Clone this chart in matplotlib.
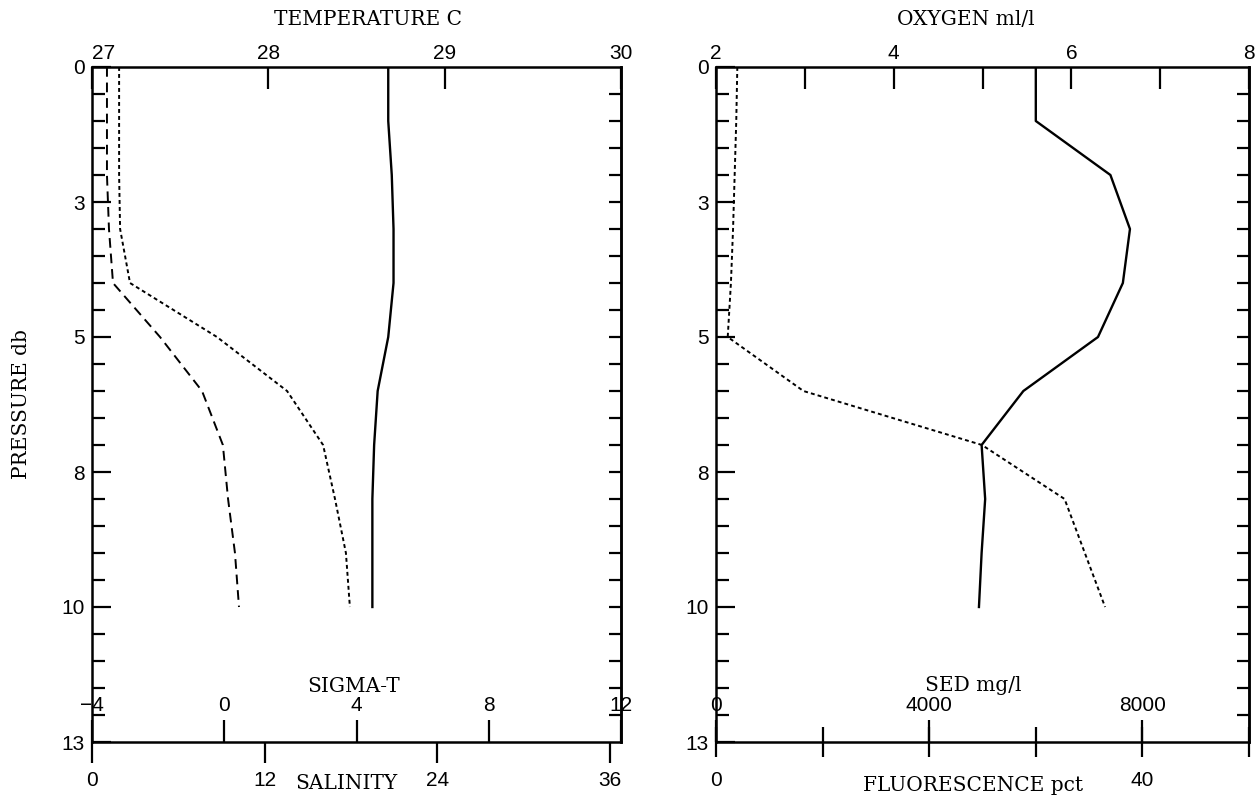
import numpy as np
import matplotlib.pyplot as plt

# ---- profile data ----
pressure = [0, 1, 2, 3, 4, 5, 6, 7, 8, 9, 10]
temperature = [28.68, 28.68, 28.70, 28.71, 28.71, 28.68, 28.62, 28.60, 28.59, 28.59, 28.59]
sigma_t = [-3.18, -3.18, -3.18, -3.15, -2.85, -0.22, 1.90, 2.99, 3.35, 3.68, 3.80]
salinity = [1.04, 1.04, 1.04, 1.18, 1.46, 4.73, 7.65, 9.10, 9.46, 9.94, 10.22]
oxygen = [5.60, 5.60, 6.44, 6.66, 6.58, 6.30, 5.46, 4.99, 5.03, 4.99, 4.96]
fluorescence = [2.0, 1.9, 1.75, 1.6, 1.4, 1.1, 8.2, 24.95, 32.7, 34.6, 36.5]

# axis ticks / labels
p_major = [0, 2.5, 5, 7.5, 10, 12.5]
p_labels = ["0", "3", "5", "8", "10", "13"]
temp_ticks = [27, 28, 29, 30]
sigma_ticks = [-4, 0, 4, 8, 12]
sigma_labels = ["\u22124", "0", "4", "8", "12"]
sal_ticks = [0, 12, 24, 36]
oxy_ticks = [2, 3, 4, 5, 6, 7, 8]
oxy_labels = ["2", "", "4", "", "6", "", "8"]
sed_ticks = [0, 4000, 8000]
fl_ticks = [0, 10, 20, 30, 40, 50]
fl_labels = ["0", "", "", "", "40", ""]

SERIF = "DejaVu Serif"
TFS = 14.5  # title font size
plt.rcParams["font.family"] = "Liberation Sans"
plt.rcParams["font.size"] = 15

LW = 1.6
W, H = 1259, 799
fig = plt.figure(figsize=(W / 100, H / 100), dpi=100)


def frame(x0, x1):
    y0, y1 = 67, 742
    ax = fig.add_axes([x0 / W, 1 - y1 / H, (x1 - x0) / W, (y1 - y0) / H])
    for s in ax.spines.values():
        s.set_linewidth(1.8)
    ax.set_ylim(12.5, 0)
    ax.set_yticks(p_major)
    ax.set_yticklabels(p_labels)
    ax.set_yticks(np.arange(0, 12.51, 0.5), minor=True)
    ax.tick_params(axis="y", which="major", direction="in", length=14,
                   width=LW, pad=5, right=False)
    ax.tick_params(axis="y", which="minor", direction="in", length=9,
                   width=LW, right=False)
    sec = ax.secondary_yaxis("right")
    sec.set_yticks(np.arange(0.5, 12.5, 0.5))
    sec.tick_params(direction="in", length=9, width=LW, labelright=False)
    sec.spines["right"].set_linewidth(1.8)
    return ax


def bottom_twin(ax):
    t = ax.twiny()
    t.xaxis.set_ticks_position("bottom")
    for s in t.spines.values():
        s.set_visible(False)
    return t


def top_axis(ax):
    # twiny() moves the parent's ticks to the bottom, so redo it afterwards
    ax.xaxis.tick_top()
    ax.tick_params(axis="x", which="both", bottom=False, labelbottom=False,
                   top=True, labeltop=True, direction="in", length=16,
                   width=LW, pad=3)


solid = dict(color="black", lw=1.7, ls="-")
dotted = dict(color="black", lw=1.4, ls=(0, (2, 1.6)))
dashed = dict(color="black", lw=1.4, ls=(0, (5, 3)))

# ---------------- left panel ----------------
ax = frame(92, 621)
ax.set_xlim(27, 30)
ax.set_xticks(temp_ticks)
ax.set_xticklabels([str(t) for t in temp_ticks])
ax.plot(temperature, pressure, **solid)

sig = bottom_twin(ax)
sig.set_xlim(-4, 12)
sig.set_xticks(sigma_ticks)
sig.set_xticklabels(sigma_labels)
sig.tick_params(axis="x", direction="in", length=16, width=LW, pad=-33)
sig.plot(sigma_t, pressure, **dotted)

sal = bottom_twin(ax)
sal.set_xlim(0, 36.78)
sal.set_xticks(sal_ticks)
sal.set_xticklabels([str(s) for s in sal_ticks])
sal.tick_params(axis="x", direction="out", length=15, width=LW, pad=6)
sal.plot(salinity, pressure, **dashed)

top_axis(ax)
ax.get_xticklabels()[0].set_horizontalalignment("left")

ax.text(0.521, 1.07, "TEMPERATURE C", transform=ax.transAxes, ha="center",
        va="center", family=SERIF, fontsize=TFS)
ax.text(0.494, 0.082, "SIGMA-T", transform=ax.transAxes, ha="center",
        va="center", family=SERIF, fontsize=TFS)
ax.text(0.48, -0.062, "SALINITY", transform=ax.transAxes, ha="center",
        va="center", family=SERIF, fontsize=TFS)

# ---------------- right panel ----------------
ax2 = frame(716, 1249)
ax2.set_xlim(2, 8)
ax2.set_xticks(oxy_ticks)
ax2.set_xticklabels(oxy_labels)
ax2.plot(oxygen, pressure, **solid)

sed = bottom_twin(ax2)
sed.set_xlim(0, 10000)
sed.set_xticks(sed_ticks)
sed.set_xticklabels([str(s) for s in sed_ticks])
sed.tick_params(axis="x", direction="in", length=16, width=LW, pad=-33)

fl = bottom_twin(ax2)
fl.set_xlim(0, 50)
fl.set_xticks(fl_ticks)
fl.set_xticklabels(fl_labels)
fl.tick_params(axis="x", direction="inout", length=22, width=LW, pad=10)
fl.plot(fluorescence, pressure, **dotted)

top_axis(ax2)

ax2.text(0.469, 1.07, "OXYGEN ml/l", transform=ax2.transAxes, ha="center",
         va="center", family=SERIF, fontsize=TFS)
ax2.text(0.482, 0.083, "SED mg/l", transform=ax2.transAxes, ha="center",
         va="center", family=SERIF, fontsize=TFS)
ax2.text(0.482, -0.064, "FLUORESCENCE pct", transform=ax2.transAxes,
         ha="center", va="center", family=SERIF, fontsize=TFS)

fig.text(22 / W, 0.494, "PRESSURE db", rotation=90, ha="center", va="center",
         family=SERIF, fontsize=TFS)

fig.savefig("out.png", dpi=100)
